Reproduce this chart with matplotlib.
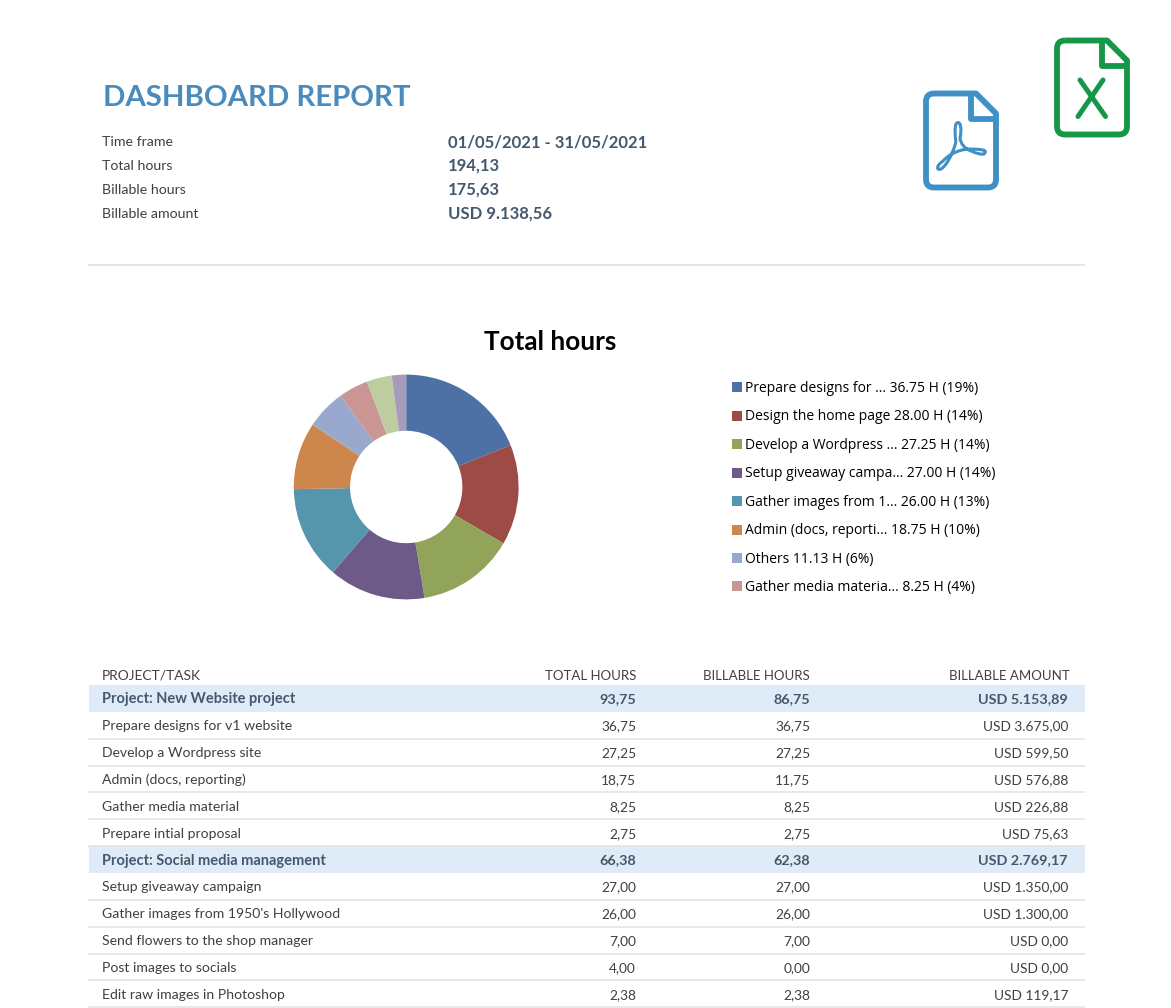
import numpy as np
import matplotlib
matplotlib.use("Agg")
import matplotlib.pyplot as plt
from matplotlib.patches import Rectangle, PathPatch
from matplotlib.path import Path

W, H = 1171, 1008
plt.rcParams["font.family"] = ["Lato", "DejaVu Sans"]

# ---- data ----
summary_labels = ["Time frame", "Total hours", "Billable hours", "Billable amount"]
summary_values = ["01/05/2021 - 31/05/2021", "194,13", "175,63", "USD 9.138,56"]

slice_hours = [36.75, 28.00, 27.25, 27.00, 26.00, 18.75, 11.13, 8.25, 7.00, 4.00]
slice_colors = ["#4E71A5", "#9C4B47", "#91A45A", "#6E5A89", "#5596AC",
                "#CD874C", "#98A9CD", "#C99693", "#BDCDA0", "#A79BBC"]
legend_labels = ["Prepare designs for ... 36.75 H (19%)",
                 "Design the home page 28.00 H (14%)",
                 "Develop a Wordpress ... 27.25 H (14%)",
                 "Setup giveaway campa... 27.00 H (14%)",
                 "Gather images from 1... 26.00 H (13%)",
                 "Admin (docs, reporti... 18.75 H (10%)",
                 "Others 11.13 H (6%)",
                 "Gather media materia... 8.25 H (4%)"]

table_header = ["PROJECT/TASK", "TOTAL HOURS", "BILLABLE HOURS", "BILLABLE AMOUNT"]
row_names = ["Project: New Website project", "Prepare designs for v1 website",
             "Develop a Wordpress site", "Admin (docs, reporting)",
             "Gather media material", "Prepare intial proposal",
             "Project: Social media management", "Setup giveaway campaign",
             "Gather images from 1950's Hollywood", "Send flowers to the shop manager",
             "Post images to socials", "Edit raw images in Photoshop"]
row_total = ["93,75", "36,75", "27,25", "18,75", "8,25", "2,75",
             "66,38", "27,00", "26,00", "7,00", "4,00", "2,38"]
row_billable = ["86,75", "36,75", "27,25", "11,75", "8,25", "2,75",
                "62,38", "27,00", "26,00", "7,00", "0,00", "2,38"]
row_amount = ["USD 5.153,89", "USD 3.675,00", "USD 599,50", "USD 576,88",
              "USD 226,88", "USD 75,63", "USD 2.769,17", "USD 1.350,00",
              "USD 1.300,00", "USD 0,00", "USD 0,00", "USD 119,17"]
row_is_project = [True, False, False, False, False, False,
                  True, False, False, False, False, False]

# ---- page axes in pixel coordinates ----
fig = plt.figure(figsize=(W / 100, H / 100), dpi=100, facecolor="white")
page = fig.add_axes([0, 0, 1, 1])
page.set_xlim(0, W)
page.set_ylim(H, 0)
page.axis("off")

DARK = "#44586E"
GREY = "#404040"
LINE = "#E3E6EA"

page.text(103, 98, "DASHBOARD REPORT", fontsize=21.2, fontweight="bold",
          color="#4A8BBE", va="center", ha="left")

for lab, val, y in zip(summary_labels, summary_values, [142.5, 166, 189.5, 213.5]):
    page.text(102, y, lab, fontsize=10.2, color=GREY, va="center")
    page.text(448, y, val, fontsize=12.0, color=DARK, fontweight="bold", va="center")

page.plot([88, 1085], [265, 265], color=LINE, lw=1.4, solid_capstyle="butt")

page.text(550.5, 341.5, "Total hours", fontsize=18.8, fontweight="bold",
          color="black", ha="center", va="center")


# ---- file icons ----
def file_icon(x0, y0, w, h, color, chamfer, fold):
    r = 8
    verts = [(x0 + r, y0), (x0 + w - chamfer, y0), (x0 + w, y0 + chamfer),
             (x0 + w, y0 + h - r), (x0 + w, y0 + h), (x0 + w - r, y0 + h),
             (x0 + r, y0 + h), (x0, y0 + h), (x0, y0 + h - r),
             (x0, y0 + r), (x0, y0), (x0 + r, y0)]
    codes = [Path.MOVETO, Path.LINETO, Path.LINETO, Path.LINETO, Path.CURVE3, Path.CURVE3,
             Path.LINETO, Path.CURVE3, Path.CURVE3, Path.LINETO, Path.CURVE3, Path.CURVE3]
    page.add_patch(PathPatch(Path(verts, codes), fc="none", ec=color, lw=4.2, joinstyle="round"))
    page.plot([x0 + w - fold, x0 + w - fold, x0 + w],
              [y0, y0 + fold, y0 + fold],
              color=color, lw=4.2, solid_joinstyle="round", solid_capstyle="butt")


file_icon(926, 93.5, 70, 94, "#3F90C6", 20, 25)
file_icon(1057, 40.5, 70, 94, "#169647", 20, 25)
page.plot([1080, 1105.5], [80, 116.5], color="#169647", lw=3.6, solid_capstyle="round")
page.plot([1103, 1078], [80, 116.5], color="#169647", lw=3.6, solid_capstyle="round")

# Acrobat glyph
ax_v = [(956, 142), (954, 130), (956, 124), (958, 121), (960, 124), (962, 130), (960, 138),
        (961, 147), (971, 151), (980, 155), (984, 154), (987, 151), (983, 150),
        (972, 148), (962, 150), (950, 153), (943, 161), (936, 166), (938, 169),
        (941, 171), (946, 164), (952, 156), (956, 142)]
ax_c = [Path.MOVETO] + [Path.CURVE3] * (len(ax_v) - 1)
page.add_patch(PathPatch(Path(ax_v, ax_c), fc="none", ec="#3F90C6", lw=2.2))

# ---- donut ----
cx, cy, R = 406.2, 487, 112.4
pie = fig.add_axes([(cx - R) / W, 1 - (cy + R) / H, 2 * R / W, 2 * R / H])
pie.pie(slice_hours, colors=slice_colors, startangle=90, counterclock=False, radius=1,
        wedgeprops=dict(width=0.5, edgecolor="none"))
pie.set_xlim(-1, 1)
pie.set_ylim(-1, 1)
pie.set_aspect("equal")

# ---- legend ----
for i, lab in enumerate(legend_labels):
    y = 387.3 + i * 28.45
    page.add_patch(Rectangle((732, y - 5), 10, 10, fc=slice_colors[i], ec="none"))
    page.text(745, y + 1, lab, fontsize=9.98, color="black", va="center", ha="left",
              family=["Open Sans", "DejaVu Sans"])

# ---- table ----
X_L, X_R = 88, 1085
COLS = [636, 810, 1070]
page.text(102, 675.5, table_header[0], fontsize=9.9, color=GREY, va="center")
for x, t in zip(COLS, table_header[1:]):
    page.text(x, 675.5, t, fontsize=9.5, color=GREY, va="center", ha="right")

row_h = 26.85
top = 685
for i, name in enumerate(row_names):
    y0 = top + i * row_h
    yc = y0 + row_h / 2 + 1
    proj = row_is_project[i]
    if proj:
        page.add_patch(Rectangle((X_L + 1, y0), X_R - X_L - 1, row_h, fc="#DFECF7", ec="none"))
    else:
        page.plot([X_L, X_R], [y0 + row_h, y0 + row_h], color=LINE, lw=1.3, solid_capstyle="butt")
    color = DARK if proj else GREY
    weight = "bold" if proj else "normal"
    size_text = 10.5 if proj else 10.1
    size_num = 10.4 if proj else 9.9
    page.text(102, yc, name, fontsize=size_text, va="center", color=color, fontweight=weight)
    page.text(COLS[0], yc, row_total[i], ha="right", fontsize=size_num, va="center",
              color=color, fontweight=weight)
    page.text(COLS[1], yc, row_billable[i], ha="right", fontsize=size_num, va="center",
              color=color, fontweight=weight)
    page.text(COLS[2] - 2, yc, row_amount[i], ha="right", fontsize=size_num, va="center",
              color=color, fontweight=weight)

fig.savefig("out.png", dpi=100, facecolor="white")
